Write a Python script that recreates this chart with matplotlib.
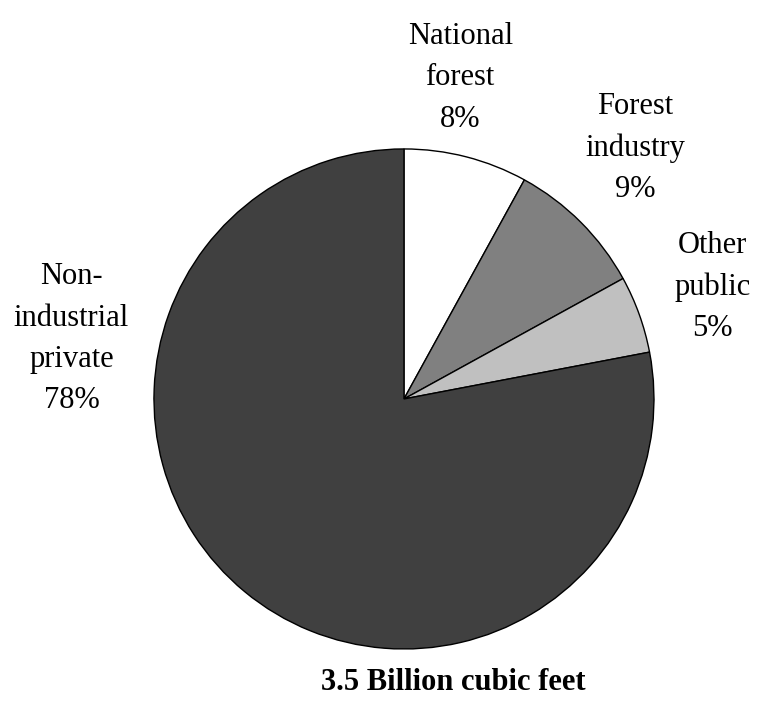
import matplotlib.pyplot as plt

plt.rcParams['font.family'] = ['Liberation Serif', 'DejaVu Serif']

owners = ['National\nforest', 'Forest\nindustry', 'Other\npublic', 'Non-\nindustrial\nprivate']
shares = [8, 9, 5, 78]
colors = ['#ffffff', '#808080', '#c0c0c0', '#404040']

# label anchor points (data units, pie radius = 1)
label_xy = [(0.225, 1.284), (0.925, 1.004), (1.235, 0.447), (-1.33, 0.24)]

fig = plt.figure(figsize=(7.63, 7.21), dpi=100)
ax = fig.add_axes([0.2018, 0.0999, 0.6553, 0.6935])

wedges, _ = ax.pie(shares, colors=colors, startangle=90, counterclock=False,
                   wedgeprops=dict(edgecolor='black', linewidth=1.0))
ax.set_xlim(-1, 1)
ax.set_ylim(-1, 1)
ax.set_aspect('auto')

for name, pct, (x, y) in zip(owners, shares, label_xy):
    ax.text(x, y, f'{name}\n{pct}%', ha='center', va='center',
            fontsize=22, linespacing=1.56, clip_on=False)

fig.text(0.5937, 0.054, '3.5 Billion cubic feet', ha='center', va='center',
         fontsize=22, fontweight='bold')

fig.savefig('out.png', dpi=100, facecolor='white')
